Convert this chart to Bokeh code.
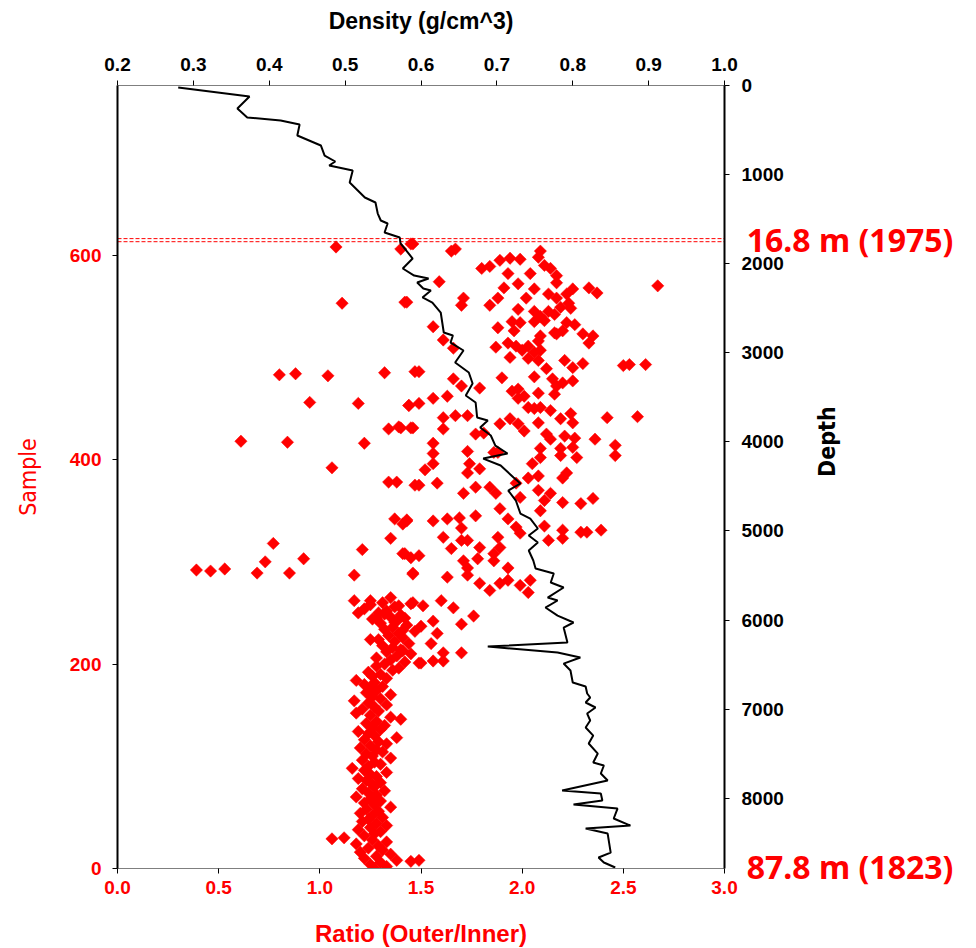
import math
from bokeh.plotting import figure
from bokeh.models import Range1d, LinearAxis, FixedTicker, Label, PrintfTickFormatter
from bokeh.embed import file_html
from bokeh.resources import INLINE

# ---------------- data ----------------
# Density profile (g/cm^3) vs depth (cm)
density = [0.280, 0.374, 0.358, 0.371, 0.415, 0.440, 0.437, 0.468, 0.473, 0.487,
           0.479, 0.510, 0.506, 0.526, 0.540, 0.543, 0.547, 0.556, 0.552, 0.572,
           0.573, 0.589, 0.576, 0.591, 0.610, 0.595, 0.603, 0.613, 0.602, 0.615,
           0.626, 0.630, 0.642, 0.639, 0.656, 0.645, 0.663, 0.668, 0.659, 0.672,
           0.674, 0.688, 0.678, 0.692, 0.698, 0.714, 0.682, 0.705, 0.722, 0.731,
           0.715, 0.725, 0.731, 0.744, 0.754, 0.742, 0.754, 0.742, 0.748, 0.751,
           0.775, 0.771, 0.788, 0.767, 0.780, 0.764, 0.780, 0.801, 0.788, 0.793,
           0.688, 0.780, 0.810, 0.788, 0.797, 0.800, 0.817, 0.819, 0.823, 0.817,
           0.830, 0.819, 0.823, 0.817, 0.827, 0.821, 0.833, 0.827, 0.841, 0.837,
           0.846, 0.786, 0.837, 0.839, 0.801, 0.859, 0.854, 0.876, 0.817, 0.846,
           0.850, 0.834, 0.841, 0.856]
depth = [22, 123, 258, 359, 393, 438, 561, 673, 786, 853,
         898, 954, 1089, 1257, 1313, 1437, 1515, 1549, 1650, 1706,
         1773, 1942, 2054, 2133, 2166, 2211, 2278, 2301, 2379, 2436,
         2548, 2772, 2806, 2885, 2974, 3109, 3221, 3345, 3479, 3558,
         3726, 3760, 3839, 3928, 4041, 4130, 4187, 4265, 4400, 4467,
         4546, 4658, 4804, 4860, 4972, 5051, 5130, 5219, 5331, 5421,
         5477, 5578, 5634, 5747, 5780, 5859, 5949, 6027, 6084, 6252,
         6297, 6364, 6420, 6488, 6566, 6701, 6746, 6824, 6869, 6925,
         6981, 7049, 7127, 7206, 7296, 7385, 7498, 7599, 7632, 7722,
         7801, 7913, 7946, 8025, 8070, 8115, 8227, 8306, 8340, 8396,
         8609, 8665, 8721, 8777]

# Ratio (Outer/Inner) per sample - dense lower section
dense_sample = [0, 2, 4, 6, 8, 10, 12, 14, 16, 18, 20, 22, 24, 26, 28, 30,
                32, 34, 36, 38, 40, 42, 44, 46, 48, 50, 52, 54, 56, 58, 60, 62,
                64, 66, 68, 70, 72, 74, 76, 78, 80, 82, 84, 86, 88, 90, 92, 94,
                96, 98, 100, 102, 104, 106, 108, 110, 112, 114, 116, 118, 120, 122,
                124, 126, 128, 130, 132, 134, 136, 138, 140, 142, 144, 146, 148, 150,
                152, 154, 156, 158, 160, 162, 164, 166, 168, 170, 172, 174, 176, 178,
                180, 182, 184, 186, 188, 190, 192, 194, 196, 198, 200, 202, 204, 206,
                208, 210, 212, 214, 216, 218, 220, 222, 224, 226, 228, 230, 232, 234,
                236, 238, 240, 242, 244, 246, 248, 250, 252, 254, 256, 258, 260]
dense_ratio = [1.27, 1.33, 1.25, 1.30, 1.38, 1.22, 1.28, 1.35, 1.20, 1.31, 1.24, 1.29, 1.18, 1.33, 1.26, 1.12,
               1.22, 1.27, 1.30, 1.19, 1.25, 1.33, 1.28, 1.21, 1.24, 1.31, 1.26, 1.20, 1.29, 1.23, 1.35, 1.27,
               1.22, 1.30, 1.25, 1.18, 1.28, 1.24, 1.32, 1.21, 1.27, 1.26, 1.30, 1.23, 1.19, 1.28, 1.25, 1.33,
               1.22, 1.16, 1.24, 1.30, 1.27, 1.21, 1.35, 1.26, 1.23, 1.31, 1.28, 1.20, 1.25, 1.33,
               1.29, 1.22, 1.38, 1.27, 1.24, 1.19, 1.30, 1.26, 1.32, 1.23, 1.28, 1.40, 1.35, 1.25,
               1.18, 1.29, 1.21, 1.27, 1.33, 1.24, 1.17, 1.30, 1.26, 1.35, 1.23, 1.28, 1.25, 1.31,
               1.22, 1.27, 1.18, 1.33, 1.26, 1.30, 1.24, 1.36, 1.39, 1.28, 1.32, 1.42, 1.35, 1.28,
               1.38, 1.45, 1.33, 1.40, 1.36, 1.31, 1.44, 1.37, 1.29, 1.41, 1.34, 1.39, 1.47, 1.32,
               1.36, 1.43, 1.30, 1.38, 1.26, 1.35, 1.40, 1.29, 1.33, 1.22, 1.37, 1.25, 1.31]

# Ratio per sample - scattered upper section
scat_sample = [608, 553, 554, 483, 484, 482, 485, 486, 456, 455, 453, 430, 432, 431, 418, 417, 416, 606, 611,
               392, 378, 378, 375, 342, 341, 337, 323, 312, 318, 300, 303, 292, 291, 293, 289, 289, 287,
               308, 304, 288, 262, 262, 265, 257, 260, 250, 245, 249, 241, 245, 224,
               611, 604, 606, 604, 598, 595, 597, 596, 587, 589, 590, 587, 582, 582, 580, 573, 574, 572,
               568, 567, 558, 562, 558, 562, 567, 568, 563, 570, 554, 558, 551, 558, 551, 547, 545, 540,
               545, 542, 549, 553, 548, 535, 536, 530, 529, 535, 526, 534, 534, 532, 526, 524, 523, 521,
               516, 523, 521, 514, 517, 509, 510, 514, 511, 500, 511, 507, 505, 507, 499, 497, 497, 490,
               494, 492, 493, 493, 489, 486, 479, 472, 480, 481, 479, 472, 464, 475, 477, 470, 467, 469,
               460, 462, 465, 460, 462, 453, 455, 451, 450, 451, 448, 440, 445, 436, 441, 443, 443, 435,
               440, 435, 428, 436, 441, 442, 431, 431, 430, 425, 426, 425, 420, 423, 421, 420, 414, 404,
               416, 406, 408, 407, 411, 411, 412, 402, 404, 402,
               407, 396, 396, 391, 390, 387, 396, 382, 384, 382, 387, 375, 377, 367, 373, 373, 367, 377,
               363, 370, 360, 367, 358, 357, 362, 350, 340, 340, 342, 343, 333, 345, 352, 342, 334, 328,
               335, 321, 331, 323, 329, 329, 331, 324, 313, 321, 321, 314, 324, 314, 308, 308, 306, 289,
               301, 303, 294, 301, 294, 285, 287, 279, 272, 279, 282, 277, 282, 270, 259, 257, 262, 255,
               247, 239, 242, 237, 230, 220, 211, 211, 201, 233, 213,
               7, 8, 29, 201, 203, 203]
scat_ratio = [1.08, 1.11, 1.43, 0.80, 0.88, 1.04, 1.32, 1.47, 0.95, 1.19, 1.44, 1.34, 1.39, 1.45, 0.61, 0.84, 1.22, 1.40, 1.45,
              1.06, 1.34, 1.38, 1.47, 1.37, 1.43, 1.41, 1.35, 1.21, 0.77, 0.73, 0.92, 0.39, 0.46, 0.53, 0.69, 0.85, 1.17,
              1.41, 1.45, 1.46, 1.17, 1.25, 1.35, 1.39, 1.46, 1.19, 1.28, 1.32, 1.37, 1.42, 1.25,
              1.46, 1.65, 1.67, 2.09, 2.08, 1.89, 1.94, 1.99, 1.80, 1.84, 2.11, 2.14, 1.93, 2.04, 2.17, 2.17, 1.59, 1.98,
              1.91, 2.06, 2.02, 2.13, 2.17, 2.22, 2.25, 2.33, 2.37, 2.67, 1.42, 1.71, 1.70, 1.88, 1.84, 1.98, 2.06, 2.09,
              2.13, 2.16, 2.19, 2.23, 2.24, 2.06, 2.11, 1.56, 1.88, 1.95, 1.96, 1.99, 2.22, 2.26, 2.20, 2.16, 2.17, 2.09,
              2.08, 2.30, 2.35, 2.33, 1.61, 1.66, 1.87, 1.93, 1.97, 1.94, 2.03, 2.00, 2.06, 2.09, 2.03, 2.08, 2.21, 2.25,
              2.30, 2.50, 2.53, 2.61, 2.12, 1.49, 1.66, 1.70, 1.90, 2.06, 2.15, 2.17, 2.16, 2.20, 2.25, 1.79, 1.95, 1.98,
              1.98, 2.01, 2.08, 1.56, 1.63, 1.44, 1.49, 2.03, 2.06, 2.09, 2.14, 2.19, 2.24, 2.25, 1.61, 1.67, 1.73, 1.89,
              1.94, 1.98, 2.01, 2.08, 2.42, 2.57, 1.46, 1.40, 1.61, 1.77, 1.81, 2.12, 2.14, 2.21, 2.26, 2.36, 2.46, 2.46,
              1.56, 1.56, 1.73, 1.86, 2.09, 2.19, 2.25, 2.09, 2.19, 2.27,
              1.88, 1.56, 1.74, 1.79, 1.52, 1.73, 2.05, 2.03, 2.08, 2.20, 2.22, 1.49, 1.58, 1.71, 1.77, 1.84, 1.87, 1.97,
              1.99, 2.08, 2.11, 2.14, 2.20, 2.29, 2.35, 2.09, 1.43, 1.56, 1.63, 1.69, 1.70, 1.77, 1.89, 1.93, 1.97, 1.99,
              2.11, 2.13, 2.20, 2.20, 2.29, 2.32, 2.39, 1.61, 1.65, 1.70, 1.73, 1.79, 1.88, 1.89, 1.86, 1.42, 1.49, 1.46,
              1.71, 1.78, 1.73, 1.86, 1.93, 1.63, 1.73, 1.79, 1.84, 1.89, 1.93, 1.99, 2.04, 2.03, 1.45, 1.51, 1.60, 1.66,
              1.76, 1.70, 1.56, 1.50, 1.58, 1.55, 1.61, 1.70, 1.50, 1.41, 1.41,
              1.45, 1.49, 1.06, 1.49, 1.56, 1.61]

# reference lines (sample number) and notes
mark_samples = [613.2, 616.2]
mark_x = [0.0, 3.02]
top_note = "16.8 m (1975)"
bottom_note = "87.8 m (1823)"
top_note_sample = 615.0
bottom_note_sample = 1.5

ratio_ticks = [0.0, 0.5, 1.0, 1.5, 2.0, 2.5, 3.0]
sample_ticks = [0, 200, 400, 600]
density_ticks = [0.2, 0.3, 0.4, 0.5, 0.6, 0.7, 0.8, 0.9, 1.0]
depth_ticks = [0, 1000, 2000, 3000, 4000, 5000, 6000, 7000, 8000]

# ---------------- figure ----------------
RED = "#FF0000"
TICK_FONT = "Liberation Sans"
NARROW_FONT = "DejaVu Sans Condensed"

p = figure(frame_width=607, frame_height=783,
           min_border_left=117, min_border_right=252,
           min_border_top=85, min_border_bottom=80,
           x_range=Range1d(0, 3), y_range=Range1d(0, 766),
           output_backend="svg", toolbar_location=None)
p.extra_x_ranges = {"dens": Range1d(0.2, 1.0)}
p.extra_y_ranges = {"depth": Range1d(8788, 0)}
p.grid.visible = False
p.outline_line_color = None
p.background_fill_color = "white"
p.border_fill_color = "white"

def style_axis(ax, color, label_color, line_color, line_width, standoff, label_standoff):
    ax.axis_line_color = line_color
    ax.axis_line_width = line_width
    ax.major_tick_line_color = "black"
    ax.major_tick_line_width = 1
    ax.major_tick_in = 0
    ax.major_tick_out = 5
    ax.minor_tick_line_color = None
    ax.major_label_text_color = color
    ax.major_label_text_font = TICK_FONT
    ax.major_label_text_font_style = "bold"
    ax.major_label_text_font_size = "19px"
    ax.major_label_standoff = standoff
    ax.axis_label_text_color = label_color
    ax.axis_label_standoff = label_standoff

# bottom: ratio
xb = p.xaxis[0]
xb.ticker = FixedTicker(ticks=ratio_ticks)
xb.formatter = PrintfTickFormatter(format="%.1f")
xb.axis_label = "Ratio (Outer/Inner)"
style_axis(xb, RED, RED, "#7f7f7f", 1, 7, 23)
xb.axis_label_text_font = "Liberation Sans"
xb.axis_label_text_font_style = "bold"
xb.axis_label_text_font_size = "24px"

# left: sample
yl = p.yaxis[0]
yl.ticker = FixedTicker(ticks=sample_ticks)
yl.formatter = PrintfTickFormatter(format="%d")
yl.axis_label = "Sample"
style_axis(yl, RED, RED, "black", 2, 11, 26)
yl.axis_label_text_font = NARROW_FONT
yl.axis_label_text_font_style = "normal"
yl.axis_label_text_font_size = "23px"

# top: density
xt = LinearAxis(x_range_name="dens", ticker=FixedTicker(ticks=density_ticks),
                formatter=PrintfTickFormatter(format="%.1f"), axis_label="Density (g/cm^3)")
style_axis(xt, "black", "black", "#7f7f7f", 1, 10, 21)
xt.axis_label_text_font = "Liberation Sans"
xt.axis_label_text_font_style = "bold"
xt.axis_label_text_font_size = "23px"
p.add_layout(xt, "above")

# right: depth
yr = LinearAxis(y_range_name="depth", ticker=FixedTicker(ticks=depth_ticks),
                formatter=PrintfTickFormatter(format="%d"), axis_label="Depth")
style_axis(yr, "black", "black", "black", 2, 12, 40)
yr.axis_label_text_font = NARROW_FONT
yr.axis_label_text_font_style = "bold"
yr.axis_label_text_font_size = "23px"
yr.axis_label_orientation = math.pi / 2
p.add_layout(yr, "right")

# reference dashed lines
for s in mark_samples:
    p.line(mark_x, [s, s], line_color=RED, line_width=1, line_dash="4 2")

# scatter
p.scatter(dense_ratio, dense_sample, marker="square", angle=math.pi / 4, size=8.7,
          fill_color=RED, line_color=RED, line_width=0.5)
p.scatter(scat_ratio, scat_sample, marker="square", angle=math.pi / 4, size=8.7,
          fill_color=RED, line_color=RED, line_width=0.5)

# density curve
p.line(density, depth, x_range_name="dens", y_range_name="depth",
       line_color="black", line_width=2)

# notes (placed in the right side panel so they are not clipped to the frame)
for txt, s in [(top_note, top_note_sample), (bottom_note, bottom_note_sample)]:
    p.add_layout(Label(x=3.11, y=s, text=txt, text_color=RED, text_font="Noto Sans",
                       text_font_style="bold", text_font_size="32px",
                       text_baseline="middle", text_align="left"), "right")

open("out.html", "w").write(file_html(p, INLINE))
